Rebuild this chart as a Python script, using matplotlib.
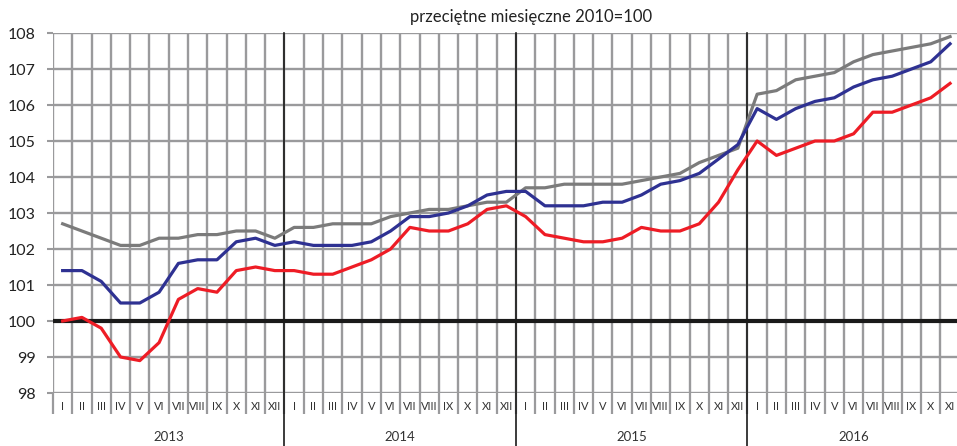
import numpy as np
import matplotlib
matplotlib.use("Agg")
import matplotlib.pyplot as plt
import matplotlib.transforms as mtransforms

plt.rcParams['font.family'] = ['Lato', 'DejaVu Sans']

months = ['I', 'II', 'III', 'IV', 'V', 'VI', 'VII', 'VIII', 'IX', 'X', 'XI', 'XII']
years = ['2013', '2014', '2015', '2016']
n_months = [12, 12, 12, 11]

gray_vals = [102.7, 102.5, 102.3, 102.1, 102.1, 102.3, 102.3, 102.4, 102.4, 102.5, 102.5, 102.3,
             102.6, 102.6, 102.7, 102.7, 102.7, 102.9, 103.0, 103.1, 103.1, 103.2, 103.3, 103.3,
             103.7, 103.7, 103.8, 103.8, 103.8, 103.8, 103.9, 104.0, 104.1, 104.4, 104.6, 104.8,
             106.3, 106.4, 106.7, 106.8, 106.9, 107.2, 107.4, 107.5, 107.6, 107.7, 107.9]
blue_vals = [101.4, 101.4, 101.1, 100.5, 100.5, 100.8, 101.6, 101.7, 101.7, 102.2, 102.3, 102.1,
             102.2, 102.1, 102.1, 102.1, 102.2, 102.5, 102.9, 102.9, 103.0, 103.2, 103.5, 103.6,
             103.6, 103.2, 103.2, 103.2, 103.3, 103.3, 103.5, 103.8, 103.9, 104.1, 104.5, 104.9,
             105.9, 105.6, 105.9, 106.1, 106.2, 106.5, 106.7, 106.8, 107.0, 107.2, 107.7]
red_vals = [100.0, 100.1, 99.8, 99.0, 98.9, 99.4, 100.6, 100.9, 100.8, 101.4, 101.5, 101.4,
            101.4, 101.3, 101.3, 101.5, 101.7, 102.0, 102.6, 102.5, 102.5, 102.7, 103.1, 103.2,
            102.9, 102.4, 102.3, 102.2, 102.2, 102.3, 102.6, 102.5, 102.5, 102.7, 103.3, 104.2,
            105.0, 104.6, 104.8, 105.0, 105.0, 105.2, 105.8, 105.8, 106.0, 106.2, 106.6]

title = 'przeciętne miesięczne 2010=100'

W, H = 957, 446
fig = plt.figure(figsize=(W / 100, H / 100), dpi=100)
left, right, top, bottom = 53, 959.7, 33, 393
ax = fig.add_axes([left / W, 1 - bottom / H, (right - left) / W, (bottom - top) / H])

total = sum(n_months)
x = np.arange(total) + 0.5
labels = [months[i] for n in n_months for i in range(n)]

gridc = '#9a9a9c'
ax.set_xlim(0, total)
ax.set_ylim(98, 108)
for s in ax.spines.values():
    s.set_visible(False)

ax.set_yticks(np.arange(98, 109, 1))
ax.tick_params(axis='y', length=4.5, width=1.5, color=gridc, labelsize=11.5, pad=8,
               labelcolor='#222222')
ax.set_xticks(np.arange(0, total + 1))
ax.set_xticklabels([])
ax.tick_params(axis='x', which='major', length=15, width=1.6, color=gridc)
ax.set_xticks(x, minor=True)
ax.set_xticklabels(labels, minor=True)
ax.tick_params(axis='x', which='minor', length=0, labelsize=8, pad=6, labelcolor='#333333')
ax.grid(True, which='major', color=gridc, lw=1.7)
ax.set_axisbelow(True)

ax.axhline(100, color='#1a1a1a', lw=3, zorder=2)

bounds = np.cumsum(n_months)[:-1]
for b in bounds:
    ax.axvline(b, ymin=-0.15, ymax=1, color='#1a1a1a', lw=1.2, clip_on=False, zorder=2)

trans = mtransforms.blended_transform_factory(ax.transData, fig.transFigure)
start = 0
for yr, n in zip(years, n_months):
    ax.text(start + n / 2, 1 - 437 / H, yr, transform=trans, ha='center', va='center',
            fontsize=9.5, color='#333333')
    start += n

ax.plot(x, gray_vals, color='#7b7b7b', lw=2.3, zorder=3)
ax.plot(x, blue_vals, color='#2e3192', lw=2.3, zorder=4)
ax.plot(x, red_vals, color='#ee1c25', lw=2.3, zorder=5)

fig.text(531 / W, 1 - 17 / H, title, ha='center', va='center', fontsize=12, color='#222222')

fig.savefig('out.png', dpi=100)
